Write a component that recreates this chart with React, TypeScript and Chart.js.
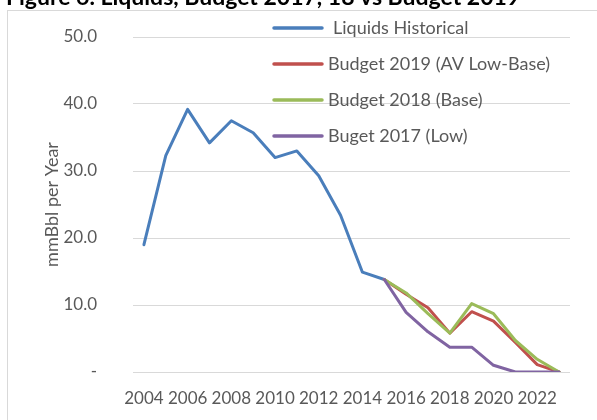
import React, { useEffect, useRef } from "react";
import { Chart, registerables } from "chart.js";

Chart.register(...registerables);

const titleText = "Figure 6. Liquids, Budget 2017, 18 vs Budget 2019";
const yAxisTitle = "mmBbl per Year";

const years = [
  "2004", "2005", "2006", "2007", "2008", "2009", "2010", "2011", "2012", "2013",
  "2014", "2015", "2016", "2017", "2018", "2019", "2020", "2021", "2022", "2023",
];

const liquidsHistorical = [
  19.0, 32.3, 39.2, 34.2, 37.5, 35.7, 32.0, 33.0, 29.3, 23.4, 14.9, 13.8,
  null, null, null, null, null, null, null, null,
];
const budget2019 = [
  null, null, null, null, null, null, null, null, null, null, null,
  13.8, 11.6, 9.6, 5.8, 9.0, 7.6, 4.4, 1.1, 0.0,
];
const budget2018 = [
  null, null, null, null, null, null, null, null, null, null, null,
  13.8, 11.8, 8.7, 5.8, 10.2, 8.7, 4.7, 1.9, 0.0,
];
const budget2017 = [
  null, null, null, null, null, null, null, null, null, null, null,
  13.8, 8.9, 6.0, 3.7, 3.7, 1.0, 0.0, 0.0, 0.0,
];

const seriesLabels = [
  "Liquids Historical",
  "Budget 2019 (AV Low-Base)",
  "Budget 2018 (Base)",
  "Buget 2017 (Low)",
];
const seriesColors = ["#4A7EBB", "#C0504D", "#9BBB59", "#8064A2"];

const yTickValues = [0, 10, 20, 30, 40, 50];
const yTickLabels = ["-", "10.0", "20.0", "30.0", "40.0", "50.0"];

const FONT = "Lato, 'Open Sans', sans-serif";
const TEXT = "#595959";
const GRID = "#D9D9D9";

const decorPlugin = {
  id: "decor",
  beforeDraw(chart: any) {
    const ctx = chart.ctx;
    ctx.save();
    ctx.fillStyle = "#ffffff";
    ctx.fillRect(0, 0, chart.width, chart.height);
    ctx.strokeStyle = GRID;
    ctx.lineWidth = 1;
    ctx.strokeRect(7.5, 10.5, chart.width + 20, chart.height + 20);
    ctx.fillStyle = "#000000";
    ctx.font = `bold 23px ${FONT}`;
    ctx.textBaseline = "alphabetic";
    ctx.textAlign = "left";
    ctx.fillText(titleText, 6, 5);
    // y-axis title
    const area = chart.chartArea;
    ctx.save();
    ctx.translate(52, (area.top + area.bottom) / 2);
    ctx.rotate(-Math.PI / 2);
    ctx.font = `18px ${FONT}`;
    ctx.fillStyle = TEXT;
    ctx.textAlign = "center";
    ctx.textBaseline = "middle";
    ctx.fillText(yAxisTitle, 0, 0);
    ctx.restore();
    ctx.restore();
  },
  afterDraw(chart: any) {
    const ctx = chart.ctx;
    ctx.save();
    ctx.font = `18px ${FONT}`;
    ctx.textBaseline = "middle";
    ctx.textAlign = "left";
    chart.data.datasets.forEach((ds: any, i: number) => {
      const y = 28 + 36 * i;
      ctx.strokeStyle = ds.borderColor;
      ctx.lineWidth = 3.5;
      ctx.lineCap = "round";
      ctx.beginPath();
      ctx.moveTo(274, y);
      ctx.lineTo(322, y);
      ctx.stroke();
      ctx.fillStyle = TEXT;
      ctx.fillText(ds.label, i === 0 ? 333 : 328, y);
    });
    ctx.restore();
  },
};

export default function App() {
  const ref = useRef<HTMLCanvasElement | null>(null);

  useEffect(() => {
    if (!ref.current) return;
    const series = [liquidsHistorical, budget2019, budget2018, budget2017];
    const chart = new Chart(ref.current, {
      type: "line",
      data: {
        labels: years,
        datasets: series.map((d, i) => ({
          label: seriesLabels[i],
          data: d,
          borderColor: seriesColors[i],
          backgroundColor: seriesColors[i],
          borderWidth: 3,
          pointRadius: 0,
          tension: 0,
          fill: false,
          borderJoinStyle: "round",
          borderCapStyle: "round",
          order: 4 - i,
        })),
      },
      options: {
        animation: false,
        responsive: false,
        devicePixelRatio: 1,
        layout: { padding: { left: 0, right: 27, top: 37, bottom: 0 } },
        plugins: {
          legend: { display: false },
          title: { display: false },
          tooltip: { enabled: false },
        },
        scales: {
          x: {
            offset: true,
            grid: { display: false, drawTicks: false },
            border: { display: false },
            ticks: {
              autoSkip: false,
              maxRotation: 0,
              minRotation: 0,
              padding: 16,
              color: TEXT,
              font: { family: FONT, size: 17 },
              callback: (_v: any, idx: number) => (idx % 2 === 0 ? years[idx] : ""),
            },
            afterFit: (s: any) => {
              s.height = 48;
              s.paddingLeft = 0;
              s.paddingRight = 0;
            },
          },
          y: {
            min: 0,
            max: 50,
            grid: { color: GRID, lineWidth: 1, drawTicks: false },
            border: { display: false },
            afterBuildTicks: (s: any) => {
              s.ticks = yTickValues.map((v) => ({ value: v }));
            },
            ticks: {
              padding: 36,
              color: TEXT,
              font: { family: FONT, size: 17 },
              callback: (v: any) => {
                const k = yTickValues.indexOf(Number(v));
                return k >= 0 ? yTickLabels[k] : "";
              },
            },
            title: { display: false },
            afterFit: (s: any) => {
              s.width = 133;
              s.paddingTop = 0;
              s.paddingBottom = 0;
            },
          },
        },
      },
      plugins: [decorPlugin],
    });
    return () => chart.destroy();
  }, []);

  return (
    <div style={{ position: "fixed", left: 0, top: 0, width: 597, height: 420, overflow: "hidden", background: "#fff" }}>
      <canvas ref={ref} width={597} height={420} style={{ width: 597, height: 420, display: "block" }} />
    </div>
  );
}
